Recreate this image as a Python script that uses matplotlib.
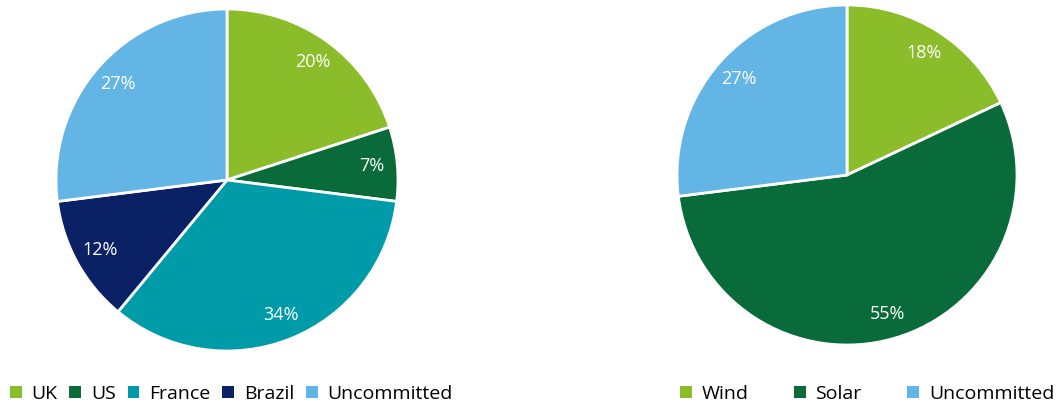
import matplotlib.pyplot as plt
from matplotlib.patches import Patch

plt.rcParams['font.family'] = ['Open Sans', 'DejaVu Sans']

# left pie: by country
country_labels = ['UK', 'US', 'France', 'Brazil', 'Uncommitted']
country_values = [20, 7, 34, 12, 27]
country_colors = ['#8bbd2a', '#0a6b3a', '#009ba8', '#0b2165', '#63b5e5']

# right pie: by technology
tech_labels = ['Wind', 'Solar', 'Uncommitted']
tech_values = [18, 55, 27]
tech_colors = ['#8bbd2a', '#0a6b3a', '#63b5e5']

W, H = 1058, 408
fig = plt.figure(figsize=(W / 100, H / 100), dpi=100)


def draw_pie(cx, cy, r, values, labels, colors, leg_x, leg_y, colspace):
    ax = fig.add_axes([(cx - r) / W, (H - cy - r) / H, 2 * r / W, 2 * r / H])
    wedges, texts, autotexts = ax.pie(
        values, colors=colors, startangle=90, counterclock=False,
        autopct='%d%%', pctdistance=0.85, radius=1,
        wedgeprops=dict(edgecolor='white', linewidth=2),
        textprops=dict(color='white', fontsize=13))
    ax.set_xlim(-1, 1)
    ax.set_ylim(-1, 1)
    ax.set_aspect('equal')
    handles = [Patch(facecolor=c, edgecolor='none', label=l) for c, l in zip(colors, labels)]
    fig.legend(handles=handles, loc='center left', bbox_to_anchor=(leg_x / W, 1 - leg_y / H),
               ncol=len(labels), frameon=False, fontsize=14, handlelength=0.6,
               handleheight=0.6, handletextpad=0.5, columnspacing=colspace,
               borderpad=0, borderaxespad=0)
    return ax


draw_pie(227, 180, 171, country_values, country_labels, country_colors, 10, 394, 0.62)
draw_pie(847, 175, 170, tech_values, tech_labels, tech_colors, 680, 394, 2.35)

fig.savefig('out.png', dpi=100)
